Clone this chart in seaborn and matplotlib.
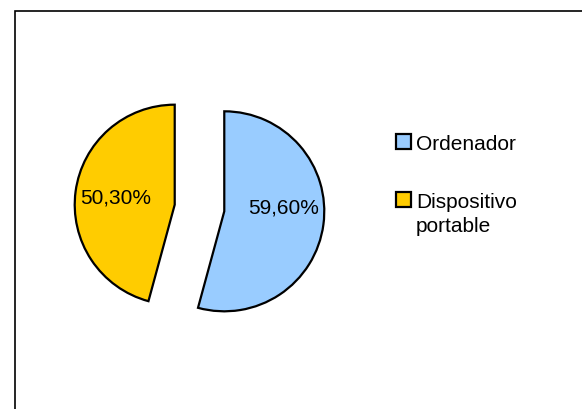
import matplotlib.pyplot as plt
import matplotlib.patches as mpatches
from matplotlib.legend_handler import HandlerPatch
import seaborn as sns

categorias = ['Ordenador', 'Dispositivo\nportable']
valores = [59.60, 50.30]
colores = ['#99CCFF', '#FFCC00']

sns.set_style('white')
plt.rcParams['font.family'] = ['Liberation Sans', 'DejaVu Sans']
plt.rcParams['text.color'] = 'black'

fig = plt.figure(figsize=(5.82, 4.10), dpi=100)

# marco del area del grafico (solo se ven el borde superior e izquierdo)
fig.add_artist(mpatches.Rectangle((15 / 582, -0.1), 1.2, 1.1 - 12 / 410,
                                  transform=fig.transFigure, fill=False,
                                  edgecolor='black', linewidth=1.2))

ax = fig.add_axes([74.5 / 582, 76 / 410, 250 / 582, 250 / 410])

total = sum(valores)
wedges, texts, autotexts = ax.pie(
    valores, colors=colores, startangle=90, counterclock=False,
    explode=[0.25, 0.25], pctdistance=0.6,
    autopct=lambda p: f'{p * total / 100:.2f}%'.replace('.', ','),
    wedgeprops=dict(edgecolor='black', linewidth=1.6),
    textprops=dict(fontsize=15, color='black'))
for w in wedges:
    w.set_clip_on(False)
# excel pone la etiqueta azul un poco mas arriba
x0, y0 = autotexts[0].get_position()
autotexts[0].set_position((x0, y0 + 0.12))


def primera_linea(legend, orig_handle, xdescent, ydescent, width, height, fontsize):
    # cuadrado alineado con la primera linea del texto
    return mpatches.Rectangle((-xdescent, -ydescent + 0.675 * fontsize), width, height)


leg = fig.legend(wedges, categorias, loc='upper left',
                 bbox_to_anchor=(396 / 582, 1 - 135 / 410), frameon=False,
                 fontsize=15, handlelength=0.7, handleheight=0.7,
                 handletextpad=0.25, labelspacing=1.85, borderpad=0,
                 borderaxespad=0,
                 handler_map={wedges[1]: HandlerPatch(patch_func=primera_linea)})
for t in leg.get_texts():
    t.set_linespacing(1.35)
    t.set_color('black')

fig.savefig('out.png', dpi=100)
